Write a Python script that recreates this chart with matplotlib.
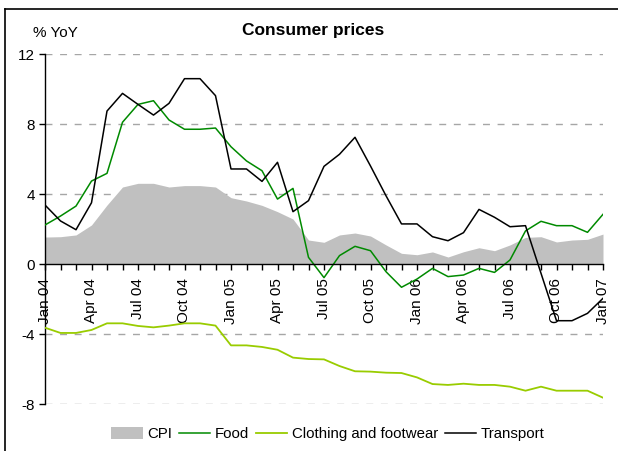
import numpy as np
import matplotlib
matplotlib.use('Agg')
import matplotlib.pyplot as plt
from matplotlib.lines import Line2D

plt.rcParams['font.family'] = ['Liberation Sans', 'DejaVu Sans']

# Monthly, Jan 04 .. Jan 07
months = ['Jan', 'Feb', 'Mar', 'Apr', 'May', 'Jun', 'Jul', 'Aug', 'Sep', 'Oct', 'Nov', 'Dec']
labels = [f'{months[i % 12]} {4 + i // 12:02d}' for i in range(37)]

cpi = [1.54, 1.56, 1.66, 2.23, 3.37, 4.40, 4.61, 4.61, 4.40, 4.48, 4.48, 4.40,
       3.79, 3.60, 3.35, 2.99, 2.57, 1.37, 1.24, 1.66, 1.77, 1.60, 1.09, 0.61,
       0.53, 0.69, 0.40, 0.70, 0.93, 0.76, 1.09, 1.52, 1.56, 1.26, 1.37, 1.41,
       1.71]
food = [2.23, 2.74, 3.31, 4.74, 5.18, 8.10, 9.12, 9.33, 8.23, 7.70, 7.70, 7.77,
        6.70, 5.89, 5.33, 3.71, 4.32, 0.38, -0.78, 0.48, 1.01, 0.76, -0.44, -1.33,
        -0.86, -0.25, -0.72, -0.63, -0.25, -0.48, 0.23, 1.89, 2.44, 2.19, 2.19, 1.81,
        2.84]
clothing = [-3.64, -3.94, -3.94, -3.77, -3.39, -3.39, -3.54, -3.62, -3.52, -3.39, -3.39, -3.52,
            -4.65, -4.65, -4.74, -4.90, -5.35, -5.43, -5.45, -5.83, -6.13, -6.15, -6.21, -6.23,
            -6.48, -6.86, -6.91, -6.84, -6.91, -6.91, -7.01, -7.24, -7.01, -7.24, -7.24, -7.24,
            -7.64]
transport = [3.37, 2.46, 1.96, 3.50, 8.74, 9.75, 9.12, 8.51, 9.18, 10.59, 10.59, 9.62,
             5.43, 5.43, 4.72, 5.81, 2.99, 3.62, 5.58, 6.27, 7.24, 5.60, 3.90, 2.29,
             2.29, 1.56, 1.33, 1.79, 3.12, 2.67, 2.13, 2.19, -0.53, -3.24, -3.24, -2.82,
             -1.96]

x = np.arange(len(labels))

fig = plt.figure(figsize=(6.18, 4.51), dpi=100)
ax = fig.add_axes([45 / 618, 47 / 451, 558 / 618, 350 / 451])

# frame lines (top and left only)
fig.add_artist(Line2D([5 / 618, 5 / 618], [0, 1 - 9 / 451], transform=fig.transFigure,
                      color='black', linewidth=1.2))
fig.add_artist(Line2D([5 / 618, 1], [1 - 9 / 451, 1 - 9 / 451], transform=fig.transFigure,
                      color='black', linewidth=1.2))

# grid
for g in [12, 8, 4, -4, -8]:
    ax.axhline(g, color='#a6a6a6', linewidth=1, linestyle=(0, (5, 5.5)), zorder=0)

ax.fill_between(x, 0, cpi, color='#c0c0c0', linewidth=0, label='CPI', zorder=1)
ax.plot(x, food, color='#008a00', linewidth=1.1, label='Food', zorder=3)
ax.plot(x, clothing, color='#99cc00', linewidth=1.3, label='Clothing and footwear', zorder=3)
ax.plot(x, transport, color='black', linewidth=1.1, label='Transport', zorder=3)

ax.set_xlim(0, 36)
ax.set_ylim(-8, 12)

for s in ['top', 'right']:
    ax.spines[s].set_visible(False)
ax.spines['bottom'].set_position(('data', 0))
ax.spines['bottom'].set_zorder(4)
ax.spines['left'].set_linewidth(1)
ax.spines['bottom'].set_linewidth(1)

ax.set_yticks([-8, -4, 0, 4, 8, 12])
ax.set_yticklabels(['-8', '-4', '0', '4', '8', '12'])
ax.set_xticks(x)
ax.set_xticklabels([l if i % 3 == 0 else '' for i, l in enumerate(labels)], rotation=90)
ax.tick_params(axis='x', direction='out', length=4, width=1, labelsize=11, pad=6)
ax.tick_params(axis='y', direction='out', length=4, width=1, labelsize=11, pad=3)

fig.text(33 / 618, 1 - 33 / 451, '% YoY', fontsize=11, va='center', ha='left')
fig.text(313 / 618, 1 - 30 / 451, 'Consumer prices', fontsize=12.5, fontweight='bold',
         va='center', ha='center')

fig.legend(loc='center', bbox_to_anchor=(328 / 618, 1 - 434 / 451), ncol=4, frameon=False,
           fontsize=10.8, handlelength=2.1, handletextpad=0.3, columnspacing=0.45,
           borderaxespad=0, handleheight=0.8)

fig.savefig('out.png', dpi=100)
